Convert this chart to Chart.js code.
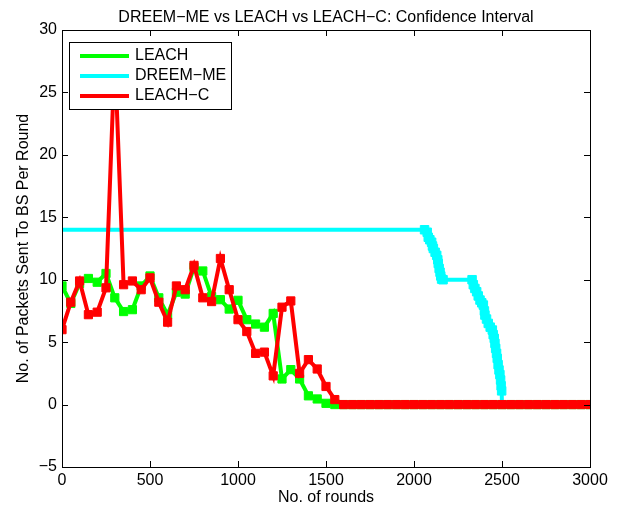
<!DOCTYPE html>
<html>
<head>
<meta charset="utf-8">
<script src="https://cdn.jsdelivr.net/npm/chart.js@4.4.0/dist/chart.umd.min.js"></script>
<style>
  html, body { margin: 0; padding: 0; background: #fff; }
  #wrap { width: 620px; height: 507px; }
</style>
</head>
<body>
<div id="wrap"><canvas id="myChart"></canvas></div>
<script>
// rounds sampled every 50 for LEACH and LEACH-C
const rounds = [0, 50, 100, 150, 200, 250, 300, 350, 400, 450, 500, 550, 600, 650, 700, 750, 800, 850, 900, 950,
  1000, 1050, 1100, 1150, 1200, 1250, 1300, 1350, 1400, 1450, 1500, 1550, 1600, 1650, 1700, 1750, 1800, 1850, 1900, 1950,
  2000, 2050, 2100, 2150, 2200, 2250, 2300, 2350, 2400, 2450, 2500, 2550, 2600, 2650, 2700, 2750, 2800, 2850, 2900, 2950, 3000];

const leach = [9.5, 8.1, 9.7, 10.1, 9.8, 10.5, 8.55, 7.45, 7.6, 9.5, 10.3, 8.55, 7.2, 9.0, 8.85, 11.0, 10.7, 8.65, 8.4, 7.65,
  8.35, 6.8, 6.45, 6.2, 7.3, 2.05, 2.8, 2.05, 0.7, 0.45, 0.1, 0, 0, 0, 0, 0, 0, 0, 0, 0,
  0, 0, 0, 0, 0, 0, 0, 0, 0, 0, 0, 0, 0, 0, 0, 0, 0, 0, 0, 0, 0];

const leachC = [6.0, 8.2, 9.9, 7.2, 7.4, 9.35, 28.0, 9.6, 9.9, 9.2, 10.15, 8.2, 6.6, 9.5, 9.2, 11.15, 8.55, 8.25, 11.7, 9.2,
  6.8, 5.85, 4.1, 4.2, 2.3, 7.8, 8.3, 2.5, 3.6, 2.85, 1.45, 0.4, 0, 0, 0, 0, 0, 0, 0, 0,
  0, 0, 0, 0, 0, 0, 0, 0, 0, 0, 0, 0, 0, 0, 0, 0, 0, 0, 0, 0, 0];

const dreemRounds = [0, 2060, 2075, 2081, 2090, 2100, 2105, 2110, 2120, 2129, 2135, 2138, 2143, 2148, 2152, 2157, 2165,
  2330, 2337, 2346, 2356, 2365, 2375, 2385, 2394, 2400, 2403, 2412, 2422, 2433, 2445, 2450, 2456, 2460, 2464, 2469,
  2473, 2478, 2483, 2488, 2492, 2495, 2498, 2500];
const dreemMe = [14, 14, 13.8, 13.4, 13.2, 13.0, 12.7, 12.5, 12.2, 11.95, 11.6, 11.3, 10.9, 10.6, 10.3, 10.05, 10,
  10, 9.6, 9.3, 9.04, 8.7, 8.37, 8.15, 7.97, 7.5, 7.17, 6.85, 6.5, 6.2, 5.97, 5.6, 5.3, 4.9, 4.5, 4.1,
  3.7, 3.2, 2.77, 2.4, 1.97, 1.5, 1.1, 0];

const xTicks = [0, 500, 1000, 1500, 2000, 2500, 3000];
const yTicks = [-5, 0, 5, 10, 15, 20, 25, 30];

const FONT = '"Liberation Sans", Arial, Helvetica, sans-serif';
Chart.defaults.font.family = FONT;
Chart.defaults.font.size = 16;
Chart.defaults.color = '#000';

function pts(xs, ys) {
  return xs.map((x, i) => ({ x: x, y: ys[i] }));
}

// MATLAB-style box with inward ticks plus the title
const boxPlugin = {
  id: 'boxPlugin',
  afterDraw(chart) {
    const ctx = chart.ctx;
    const a = chart.chartArea;
    const sx = chart.scales.x, sy = chart.scales.y;
    ctx.save();
    ctx.strokeStyle = '#000';
    ctx.lineWidth = 1;
    ctx.strokeRect(a.left + 0.5, a.top + 0.5, a.right - a.left, a.bottom - a.top);
    ctx.beginPath();
    for (const t of xTicks) {
      const px = Math.round(sx.getPixelForValue(t)) + 0.5;
      ctx.moveTo(px, a.bottom); ctx.lineTo(px, a.bottom - 6);
      ctx.moveTo(px, a.top); ctx.lineTo(px, a.top + 6);
    }
    for (const t of yTicks) {
      const py = Math.round(sy.getPixelForValue(t)) + 0.5;
      ctx.moveTo(a.left, py); ctx.lineTo(a.left + 6, py);
      ctx.moveTo(a.right, py); ctx.lineTo(a.right - 6, py);
    }
    ctx.stroke();
    ctx.fillStyle = '#000';
    ctx.font = '16px ' + FONT;
    ctx.textAlign = 'center';
    ctx.textBaseline = 'middle';
    ctx.fillText('DREEM\u2212ME vs LEACH vs LEACH\u2212C: Confidence Interval', (a.left + a.right) / 2, 18);
    ctx.restore();
  }
};

const legendPlugin = {
  id: 'legendPlugin',
  afterDatasetsDraw(chart) {
    const ctx = chart.ctx;
    const a = chart.chartArea;
    const x0 = a.left + 7, y0 = a.top + 12, w = 162, h = 67;
    ctx.save();
    ctx.fillStyle = '#fff';
    ctx.fillRect(x0, y0, w, h);
    ctx.strokeStyle = '#000';
    ctx.lineWidth = 1;
    ctx.strokeRect(x0 + 0.5, y0 + 0.5, w, h);
    chart.data.datasets.forEach((ds, i) => {
      const yy = y0 + 14 + i * 20;
      ctx.strokeStyle = ds.borderColor;
      ctx.lineWidth = 4;
      ctx.beginPath();
      ctx.moveTo(x0 + 11, yy);
      ctx.lineTo(x0 + 60, yy);
      ctx.stroke();
      ctx.fillStyle = '#000';
      ctx.font = '16px ' + FONT;
      ctx.textAlign = 'left';
      ctx.textBaseline = 'middle';
      ctx.fillText(ds.label, x0 + 66, yy);
    });
    ctx.restore();
  }
};

const ctx = document.getElementById('myChart').getContext('2d');
const myChart = new Chart(ctx, {
  type: 'line',
  data: {
    datasets: [{
      label: 'LEACH',
      data: pts(rounds, leach),
      borderColor: '#00ff00',
      backgroundColor: '#00ff00',
      borderWidth: 4,
      pointStyle: 'rect',
      pointRadius: 5.8,
      pointBorderWidth: 1,
      order: 2
    }, {
      label: 'DREEM\u2212ME',
      data: pts(dreemRounds, dreemMe),
      borderColor: '#00ffff',
      backgroundColor: '#00ffff',
      borderWidth: 4,
      pointStyle: 'rect',
      pointRadius: c => (c.dataIndex === 0 || c.dataIndex === dreemMe.length - 1) ? 0 : 6,
      pointBorderWidth: 1,
      order: 1
    }, {
      label: 'LEACH\u2212C',
      data: pts(rounds, leachC),
      borderColor: '#ff0000',
      backgroundColor: '#ff0000',
      borderWidth: 4,
      pointStyle: 'rect',
      pointRadius: 5.8,
      pointBorderWidth: 1,
      order: 0
    }]
  },
  options: {
    responsive: true,
    maintainAspectRatio: false,
    animation: false,
    layout: { padding: { top: 30, right: 30, left: 0, bottom: 0 } },
    plugins: {
      legend: { display: false },
      title: { display: false },
      tooltip: { enabled: false }
    },
    elements: { line: { tension: 0 } },
    scales: {
      x: {
        type: 'linear',
        min: 0,
        max: 3000,
        afterBuildTicks: s => { s.ticks = xTicks.map(v => ({ value: v })); },
        afterFit: s => { s.height = 40; },
        ticks: { padding: 4, maxRotation: 0, autoSkip: false, callback: v => String(v) },
        grid: { display: true, drawOnChartArea: false, drawTicks: false },
        border: { display: true, color: '#000' },
        title: { display: true, text: 'No. of rounds', padding: 0 }
      },
      y: {
        type: 'linear',
        min: -5,
        max: 30,
        afterBuildTicks: s => { s.ticks = yTicks.map(v => ({ value: v })); },
        afterFit: s => { s.width = 62; },
        ticks: { padding: 5, autoSkip: false, callback: v => String(v).replace('-', '\u2212') },
        grid: { display: true, drawOnChartArea: false, drawTicks: false },
        border: { display: true, color: '#000' },
        title: { display: true, text: 'No. of Packets Sent To BS Per Round', padding: { top: 14, bottom: 0 } }
      }
    }
  },
  plugins: [legendPlugin, boxPlugin]
});
</script>
</body>
</html>
